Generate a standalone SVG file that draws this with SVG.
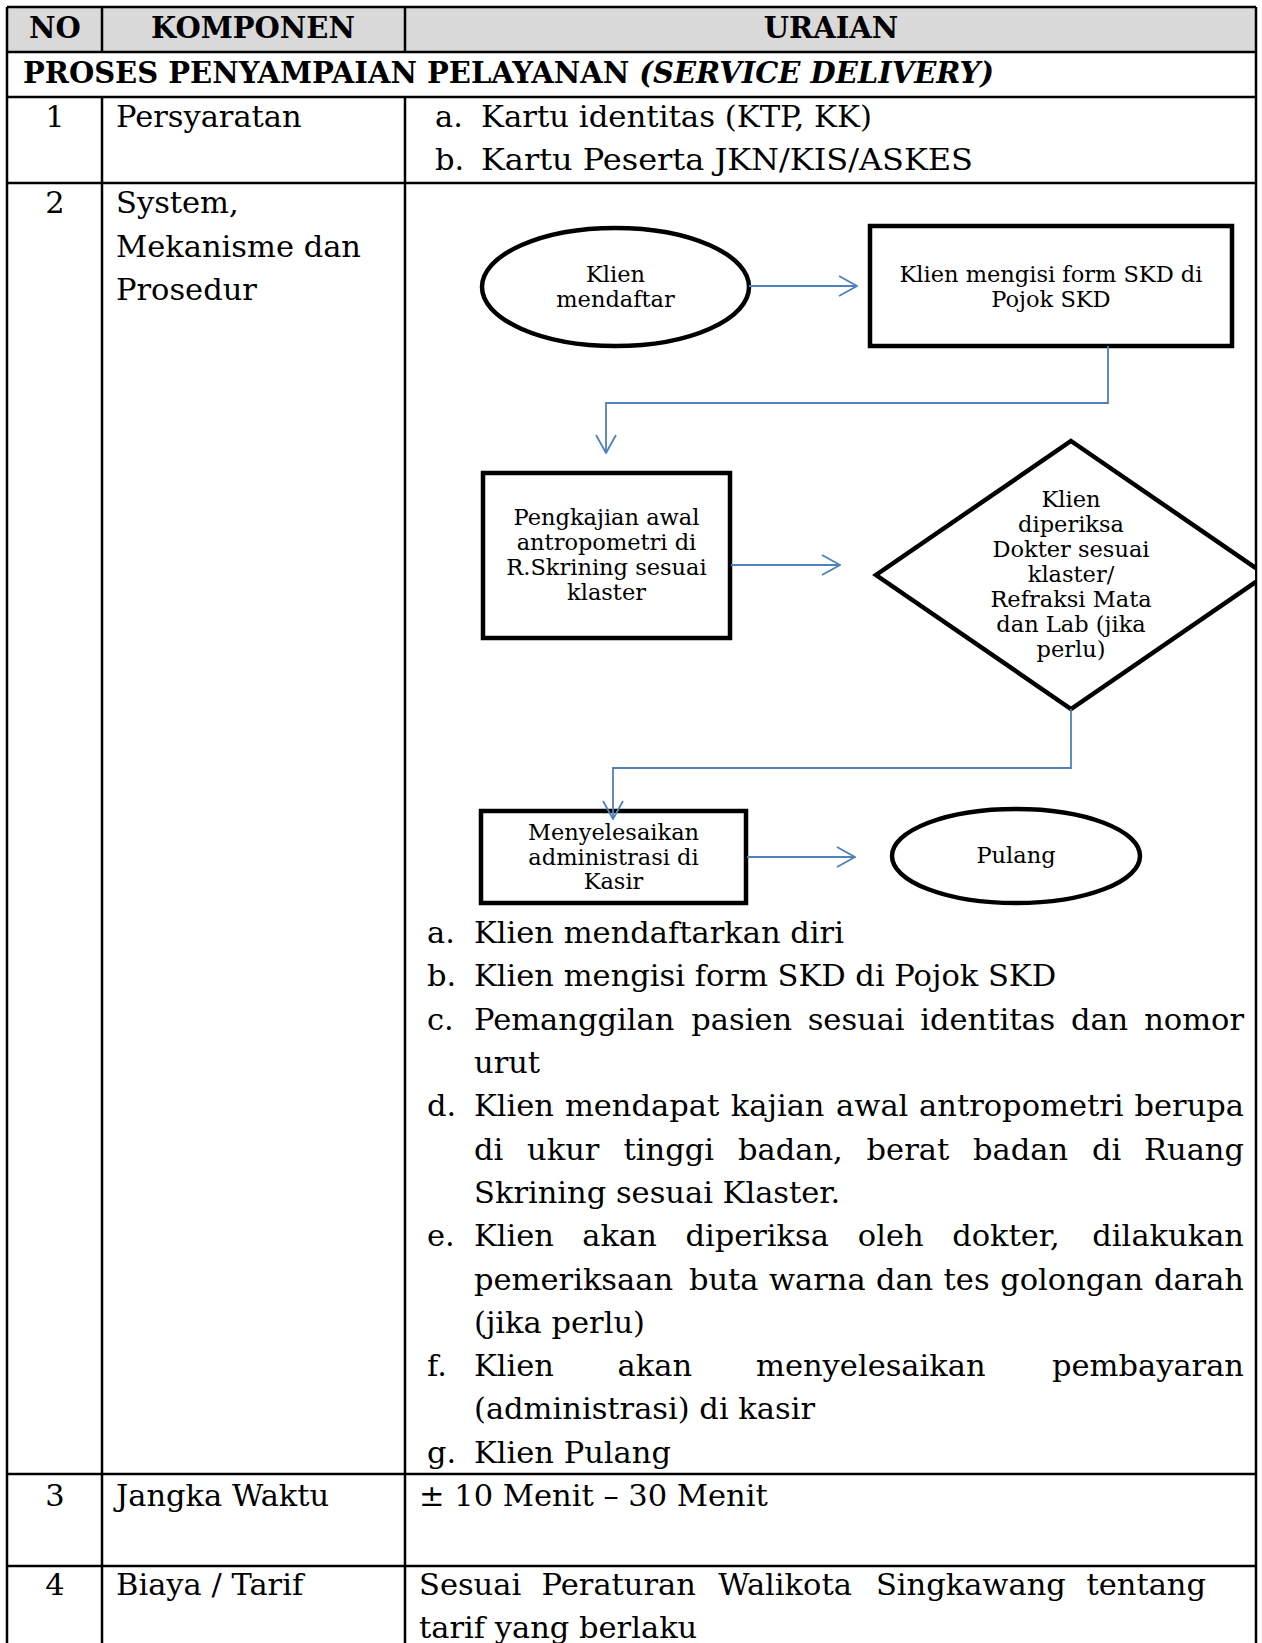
<svg xmlns="http://www.w3.org/2000/svg" width="1262" height="1643" viewBox="0 0 1262 1643">
<defs>
<style>
.t{font-family:"DejaVu Serif","Liberation Serif",serif;font-size:30.5px;fill:#000}
.b{font-weight:bold;font-size:29px}
.i{font-style:italic}
.m{text-anchor:middle}
.e{text-anchor:end}
.fc{font-family:"DejaVu Serif","Liberation Serif",serif;font-size:22.5px;fill:#000;text-anchor:middle}
.grid{stroke:#000;stroke-width:2.5;fill:none}
.node{fill:#fff;stroke:#000;stroke-width:4.5}
.conn{fill:none;stroke:#4f81bd;stroke-width:1.8}
</style>
<marker id="ah" markerUnits="userSpaceOnUse" viewBox="0 0 20 22" refX="19" refY="11" markerWidth="20" markerHeight="22" orient="auto">
<path d="M1,1 L19,11 L1,21" fill="none" stroke="#4f81bd" stroke-width="1.8"/>
</marker>
<clipPath id="tblclip"><rect x="0" y="0" width="1255" height="1643"/></clipPath>
</defs>
<rect width="1262" height="1643" fill="#fff"/>
<rect x="7" y="7" width="1249" height="45" fill="#d9d9d9"/>

<g id="table-grid" class="grid">
<path d="M7,7 H1256 M7,52 H1256 M7,97 H1256 M7,183 H1256 M7,1474 H1256 M7,1566 H1256"/>
<path d="M7,7 V1643 M1256,7 V1643 M102,7 V52 M405,7 V52 M102,97 V1643 M405,97 V1643"/>
</g>

<g id="header">
<text class="t b m" x="55" y="38">NO</text>
<text class="t b m" x="253" y="38">KOMPONEN</text>
<text class="t b m" x="831" y="38">URAIAN</text>
<text class="t b" x="23" y="83">PROSES PENYAMPAIAN PELAYANAN <tspan class="i">(SERVICE DELIVERY)</tspan></text>
</g>

<g id="row1">
<text class="t m" x="55" y="127">1</text>
<text class="t" x="116" y="127">Persyaratan</text>
<text class="t" x="435" y="127">a.</text>
<text class="t" x="481" y="127" textLength="391" lengthAdjust="spacingAndGlyphs">Kartu identitas (KTP, KK)</text>
<text class="t" x="435" y="169.5">b.</text>
<text class="t" x="481" y="169.5" textLength="492" lengthAdjust="spacingAndGlyphs">Kartu Peserta JKN/KIS/ASKES</text>
</g>

<g id="row2">
<text class="t m" x="55" y="213">2</text>
<text class="t" x="116" y="213">System,</text>
<text class="t" x="116" y="257">Mekanisme dan</text>
<text class="t" x="116" y="300">Prosedur</text>
</g>

<g id="flowchart">
<g id="node-klien-mendaftar">
<ellipse class="node" cx="615.5" cy="287" rx="133.5" ry="59"/>
<text class="fc" x="615.5" y="282">Klien</text>
<text class="fc" x="615.5" y="307">mendaftar</text>
</g>
<g id="node-form-skd">
<rect class="node" x="870" y="226" width="362" height="120"/>
<text class="fc" x="1051" y="282">Klien mengisi form SKD di</text>
<text class="fc" x="1051" y="307">Pojok SKD</text>
</g>
<g id="node-pengkajian">
<rect class="node" x="483" y="473" width="247" height="165"/>
<text class="fc" x="606.5" y="525">Pengkajian awal</text>
<text class="fc" x="606.5" y="550">antropometri di</text>
<text class="fc" x="606.5" y="575">R.Skrining sesuai</text>
<text class="fc" x="606.5" y="600">klaster</text>
</g>
<g id="node-diperiksa">
<polygon class="node" clip-path="url(#tblclip)" points="1071,441 1266,575 1071,709 876,575"/>
<text class="fc" x="1071" y="507">Klien</text>
<text class="fc" x="1071" y="532">diperiksa</text>
<text class="fc" x="1071" y="557">Dokter sesuai</text>
<text class="fc" x="1071" y="582">klaster/</text>
<text class="fc" x="1071" y="607">Refraksi Mata</text>
<text class="fc" x="1071" y="632">dan Lab (jika</text>
<text class="fc" x="1071" y="657">perlu)</text>
</g>
<g id="node-kasir">
<rect class="node" x="481" y="811" width="265" height="92"/>
<text class="fc" x="613.5" y="840">Menyelesaikan</text>
<text class="fc" x="613.5" y="865">administrasi di</text>
<text class="fc" x="613.5" y="889">Kasir</text>
</g>
<g id="node-pulang">
<ellipse class="node" cx="1016" cy="856" rx="124" ry="47"/>
<text class="fc" x="1016" y="863">Pulang</text>
</g>
<g id="connectors" class="conn">
<path d="M749,286 H857" marker-end="url(#ah)"/>
<path d="M1108,346 V403 H606 V453" marker-end="url(#ah)"/>
<path d="M731,565 H840" marker-end="url(#ah)"/>
<path d="M1071,709 V768 H613 V819" marker-end="url(#ah)"/>
<path d="M747,857 H855" marker-end="url(#ah)"/>
</g>
</g>

<g id="row2-list">
<text class="t" x="427" y="943">a.</text>
<text class="t" x="474" y="943">Klien mendaftarkan diri</text>
<text class="t" x="427" y="986.3">b.</text>
<text class="t" x="474" y="986.3">Klien mengisi form SKD di Pojok SKD</text>
<text class="t" x="427" y="1029.6">c.</text>
<text class="t" y="1029.6"><tspan x="474">Pemanggilan</tspan><tspan x="691.3">pasien</tspan><tspan x="807.7">sesuai</tspan><tspan x="920.2">identitas</tspan><tspan x="1070.9">dan</tspan></text>
<text class="t e" x="1244" y="1029.6">nomor</text>
<text class="t" x="474" y="1073">urut</text>
<text class="t" x="427" y="1116.3">d.</text>
<text class="t" y="1116.3"><tspan x="474">Klien</tspan><tspan x="564.9">mendapat</tspan><tspan x="730.8">kajian</tspan><tspan x="836.1">awal</tspan><tspan x="919.1">antropometri</tspan></text>
<text class="t e" x="1244" y="1116.3">berupa</text>
<text class="t" y="1159.6"><tspan x="474">di</tspan><tspan x="527.1">ukur</tspan><tspan x="623.6">tinggi</tspan><tspan x="738">badan,</tspan><tspan x="866.6">berat</tspan><tspan x="973.1">badan</tspan><tspan x="1092">di</tspan></text>
<text class="t e" x="1244" y="1159.6">Ruang</text>
<text class="t" x="474" y="1203">Skrining sesuai Klaster.</text>
<text class="t" x="427" y="1246.2">e.</text>
<text class="t" y="1246.2"><tspan x="474">Klien</tspan><tspan x="582.3">akan</tspan><tspan x="685.4">diperiksa</tspan><tspan x="857.8">oleh</tspan><tspan x="952.2">dokter,</tspan></text>
<text class="t e" x="1244" y="1246.2">dilakukan</text>
<text class="t" y="1289.5"><tspan x="474">pemeriksaan</tspan><tspan x="688.9">buta</tspan><tspan x="768.9">warna</tspan><tspan x="875.9">dan</tspan><tspan x="943.6">tes</tspan><tspan x="1000.2">golongan</tspan></text>
<text class="t e" x="1244" y="1289.5">darah</text>
<text class="t" x="474" y="1332.8">(jika perlu)</text>
<text class="t" x="427" y="1376">f.</text>
<text class="t" y="1376"><tspan x="474">Klien</tspan><tspan x="617.6">akan</tspan><tspan x="756">menyelesaikan</tspan></text>
<text class="t e" x="1244" y="1376">pembayaran</text>
<text class="t" x="474" y="1419.4">(administrasi) di kasir</text>
<text class="t" x="427" y="1462.7">g.</text>
<text class="t" x="474" y="1462.7">Klien Pulang</text>
</g>

<g id="row3">
<text class="t m" x="55" y="1506">3</text>
<text class="t" x="116" y="1506">Jangka Waktu</text>
<text class="t" x="419" y="1506">± 10 Menit – 30 Menit</text>
</g>

<g id="row4">
<text class="t m" x="55" y="1595">4</text>
<text class="t" x="116" y="1595">Biaya / Tarif</text>
<text class="t" y="1595"><tspan x="419">Sesuai</tspan><tspan x="541.6">Peraturan</tspan><tspan x="718.2">Walikota</tspan><tspan x="875.9">Singkawang</tspan></text>
<text class="t e" x="1206" y="1595">tentang</text>
<text class="t" x="419" y="1638">tarif yang berlaku</text>
</g>
</svg>
